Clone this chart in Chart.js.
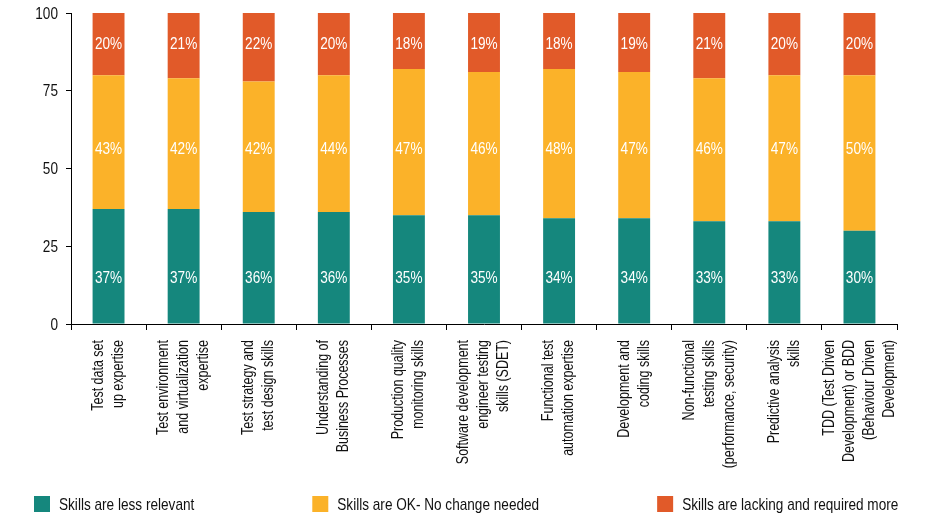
<!DOCTYPE html>
<html>
<head>
<meta charset="utf-8">
<script src="https://cdn.jsdelivr.net/npm/chart.js@4/dist/chart.umd.min.js"></script>
<style>
  html, body { margin: 0; padding: 0; background: #fff; }
  #wrap { width: 931px; height: 519px; }
</style>
</head>
<body>
<div id="wrap"><canvas id="skills"></canvas></div>
<script>
// categories (each one split in lines like in the picture)
var categories = [
  ["Test data set", "up expertise"],
  ["Test environment", "and virtualization", "expertise"],
  ["Test strategy and", "test design skills"],
  ["Understanding of", "Business Processes"],
  ["Production quality", "monitoring skills"],
  ["Software development", "engineer testing", "skills (SDET)"],
  ["Functional test", "automation expertise"],
  ["Development and", "coding skills"],
  ["Non-functional", "testing skills", "(performance, security)"],
  ["Predictive analysis", "skills"],
  ["TDD (Test Driven", "Development) or BDD", "(Behaviour Driven", "Development)"]
];

var seriesNames = ["Skills are less relevant", "Skills are OK- No change needed", "Skills are lacking and required more"];

var lessRelevant = [37, 37, 36, 36, 35, 35, 34, 34, 33, 33, 30];
var okNoChange   = [43, 42, 42, 44, 47, 46, 48, 47, 46, 47, 50];
var lacking      = [20, 21, 22, 20, 18, 19, 18, 19, 21, 20, 20];

var yTicks = [0, 25, 50, 75, 100];

var FONT = "'Liberation Sans', Arial, sans-serif";
var colors = ['#15877d', '#fbb229', '#e15a29'];

// in the original the % labels sit on three fixed rows (y units)
var labelRows = [15, 56.5, 90.3];

// writes text squeezed horizontally (condensed look), optionally rotated
function narrowText(ctx, text, x, y, squeeze, angle, dy) {
  ctx.save();
  ctx.translate(x, y);
  if (angle) ctx.rotate(angle);
  ctx.scale(squeeze, 1);
  ctx.fillText(text, 0, dy || 0);
  ctx.restore();
}

// percentuali bianche dentro le barre
var valueLabels = {
  id: 'valueLabels',
  afterDatasetsDraw: function(chart) {
    var ctx = chart.ctx;
    var ys = chart.scales.y;
    ctx.save();
    ctx.font = '17px ' + FONT;
    ctx.fillStyle = '#ffffff';
    ctx.textAlign = 'center';
    ctx.textBaseline = 'middle';
    chart.data.datasets.forEach(function(ds, i) {
      var meta = chart.getDatasetMeta(i);
      meta.data.forEach(function(bar, j) {
        narrowText(ctx, ds.data[j] + '%', bar.x, ys.getPixelForValue(labelRows[i]) + 1, 0.8);
      });
    });
    ctx.restore();
  }
};

// tick labels of both axes
var axisLabels = {
  id: 'axisLabels',
  afterDraw: function(chart) {
    var ctx = chart.ctx;
    var xs = chart.scales.x;
    var ys = chart.scales.y;
    var lineH = 20;
    ctx.save();
    ctx.fillStyle = '#111';

    // y
    ctx.font = '17px ' + FONT;
    ctx.textAlign = 'right';
    ctx.textBaseline = 'middle';
    yTicks.forEach(function(v) {
      narrowText(ctx, String(v), ys.right - 13, ys.getPixelForValue(v) + 1, 0.8);
    });

    // x, rotated with the lines centered on the category
    ctx.font = '16px ' + FONT;
    for (var i = 0; i < categories.length; i++) {
      var lines = categories[i];
      for (var j = 0; j < lines.length; j++) {
        narrowText(ctx, lines[j], xs.getPixelForValue(i), xs.top + 16, 0.78, -Math.PI / 2, (j - (lines.length - 1) / 2) * lineH);
      }
    }
    ctx.restore();
  }
};

// legend at the bottom with the wide spacing of the original
var bottomLegend = {
  id: 'bottomLegend',
  afterDraw: function(chart) {
    var ctx = chart.ctx;
    var x = 34, y = 504;
    ctx.save();
    ctx.font = '17px ' + FONT;
    ctx.textBaseline = 'middle';
    ctx.textAlign = 'left';
    chart.data.datasets.forEach(function(ds) {
      ctx.fillStyle = ds.backgroundColor;
      ctx.fillRect(x, y - 8, 16, 16);
      ctx.fillStyle = '#111';
      narrowText(ctx, ds.label, x + 25, y + 1, 0.8);
      x += 25 + ctx.measureText(ds.label).width * 0.8 + 118;
    });
    ctx.restore();
  }
};

var ctx = document.getElementById('skills').getContext('2d');
var chart = new Chart(ctx, {
  type: 'bar',
  data: {
    labels: categories,
    datasets: [
      { label: seriesNames[0], data: lessRelevant, backgroundColor: colors[0] },
      { label: seriesNames[1], data: okNoChange, backgroundColor: colors[1] },
      { label: seriesNames[2], data: lacking, backgroundColor: colors[2] }
    ]
  },
  options: {
    responsive: true,
    maintainAspectRatio: false,
    animation: false,
    layout: { padding: { top: 13, right: 34, left: 0, bottom: 0 } },
    datasets: { bar: { barPercentage: 0.85, categoryPercentage: 0.5 } },
    plugins: {
      legend: { display: false },
      tooltip: { enabled: false }
    },
    scales: {
      x: {
        stacked: true,
        afterFit: function(s) { s.height = 195; },
        border: { color: '#000', width: 1 },
        grid: { offset: true, drawOnChartArea: false, color: '#000', tickLength: 6 },
        ticks: { display: false }
      },
      y: {
        stacked: true,
        min: 0,
        max: 100,
        afterFit: function(s) { s.width = 71; },
        afterBuildTicks: function(s) { s.ticks = yTicks.map(function(v) { return { value: v }; }); },
        border: { color: '#000', width: 1 },
        grid: { drawOnChartArea: false, color: '#000', tickLength: 5 },
        ticks: { display: false }
      }
    }
  },
  plugins: [valueLabels, axisLabels, bottomLegend]
});
</script>
</body>
</html>
